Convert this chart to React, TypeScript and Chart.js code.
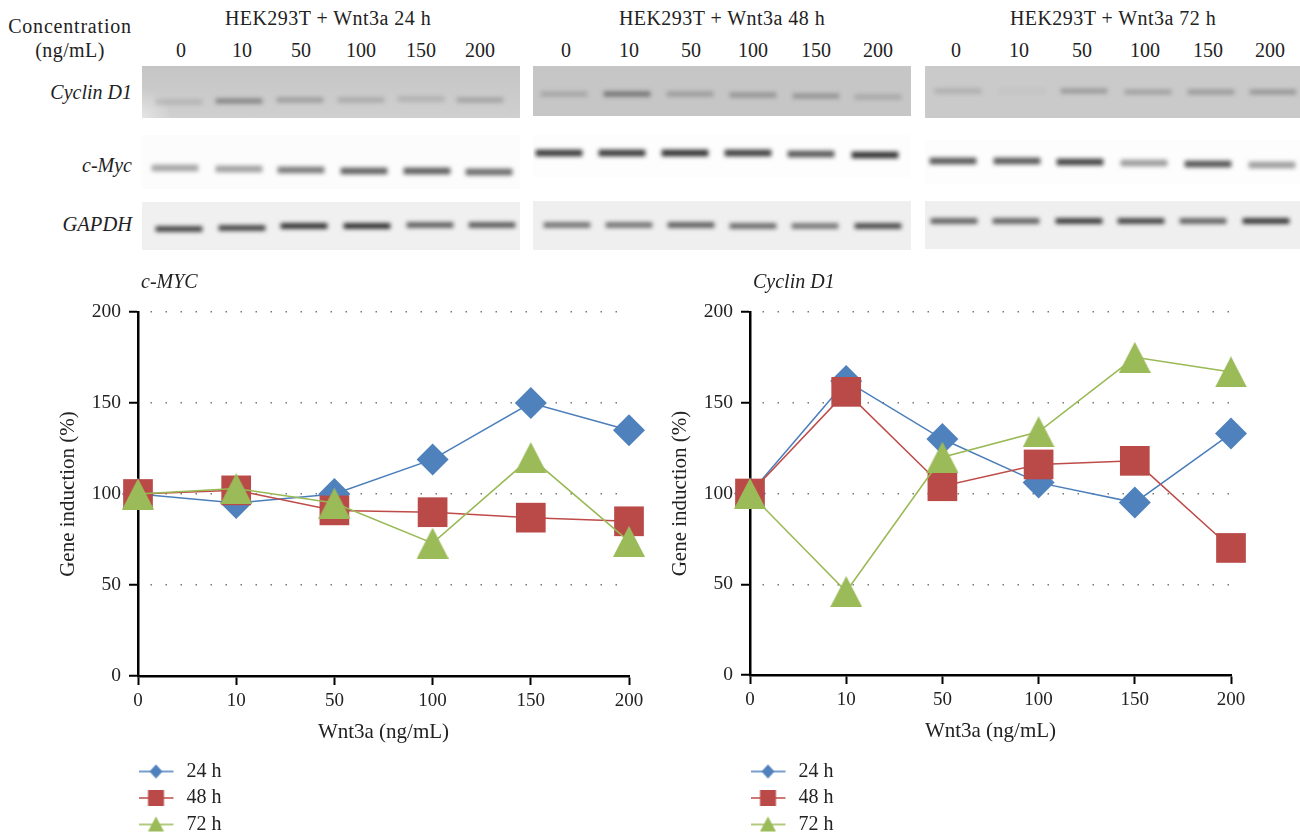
import React, { useEffect, useRef } from "react";
import { Chart, registerables } from "chart.js";

Chart.register(...registerables);

// ---- line chart data ----
const doses = ["0", "10", "50", "100", "150", "200"];
const seriesNames = ["24 h", "48 h", "72 h"];
const myc24 = [100, 95, 100, 119, 150, 135];
const myc48 = [100, 102, 91, 90, 87, 85];
const myc72 = [100, 103, 95, 73, 120, 74];
const cyclin24 = [100, 162, 130, 106, 95, 133];
const cyclin48 = [100, 156, 104, 116, 118, 70];
const cyclin72 = [100, 46, 120, 134, 175, 167];
const yTicks = [0, 50, 100, 150, 200];

// ---- gel band read-outs: lane centre, band centre, band darkness ----
const lanes24Cyclin = [179, 239, 300, 361, 421, 480];
const lanes24Myc = [175, 239, 301, 364, 427, 489];
const lanes24Gapdh = [179, 242, 304, 367, 430, 492];
const lanes48Cyclin = [564, 627, 690, 753, 816, 878];
const lanes48Myc = [559, 622, 685, 748, 811, 875];
const lanes48Gapdh = [567, 629, 691, 753, 815, 878];
const lanes72Cyclin = [958, 1022, 1084, 1148, 1211, 1273];
const lanes72Myc = [953, 1017, 1080, 1144, 1208, 1272];
const lanes72Gapdh = [954, 1016, 1079, 1141, 1203, 1266];

const y24Cyclin = [102, 101, 100, 100, 99, 100];
const y24Myc = [168, 169, 170, 171, 171, 172];
const y24Gapdh = [229, 228, 226, 226, 225, 225];
const y48Cyclin = [94, 94, 94, 95, 96, 97];
const y48Myc = [153, 153, 153, 153, 154, 155];
const y48Gapdh = [225, 225, 225, 226, 226, 226];
const y72Cyclin = [91, 91, 91, 92, 92, 92];
const y72Myc = [161, 161, 162, 163, 164, 165];
const y72Gapdh = [221, 221, 221, 221, 221, 221];

const dark24Cyclin = [0.14, 0.42, 0.28, 0.2, 0.16, 0.24];
const dark24Myc = [0.4, 0.42, 0.58, 0.7, 0.72, 0.66];
const dark24Gapdh = [0.85, 0.85, 0.95, 0.96, 0.72, 0.74];
const dark48Cyclin = [0.2, 0.5, 0.26, 0.3, 0.3, 0.18];
const dark48Myc = [0.88, 0.88, 0.92, 0.86, 0.74, 0.92];
const dark48Gapdh = [0.62, 0.62, 0.72, 0.66, 0.6, 0.82];
const dark72Cyclin = [0.16, 0.04, 0.28, 0.24, 0.28, 0.3];
const dark72Myc = [0.74, 0.74, 0.84, 0.44, 0.76, 0.43];
const dark72Gapdh = [0.7, 0.7, 0.9, 0.86, 0.7, 0.92];

const timeHeaders = ["HEK293T + Wnt3a 24 h", "HEK293T + Wnt3a 48 h", "HEK293T + Wnt3a 72 h"];
const geneLabels = ["Cyclin D1", "c-Myc", "GAPDH"];

const FONT = '"Liberation Serif", serif';
const BLUE = "#4f81bd";
const RED = "#b94a48";
const GREEN = "#9bbb59";
const LINE_BLUE = "#4a7ebb";
const LINE_RED = "#be4b48";
const LINE_GREEN = "#98b954";

function triangleIcon(w: number, h: number, color: string) {
  const c = document.createElement("canvas");
  c.width = w;
  c.height = h;
  const g = c.getContext("2d")!;
  g.fillStyle = color;
  g.beginPath();
  g.moveTo(w / 2, 0);
  g.lineTo(w, h);
  g.lineTo(0, h);
  g.closePath();
  g.fill();
  return c;
}

function legendIcon(kind: string, color: string, line: string) {
  const c = document.createElement("canvas");
  c.width = 38;
  c.height = 20;
  const g = c.getContext("2d")!;
  g.strokeStyle = line;
  g.lineWidth = 1.5;
  g.beginPath();
  g.moveTo(0, 10);
  g.lineTo(35, 10);
  g.stroke();
  g.fillStyle = color;
  g.beginPath();
  if (kind === "diamond") {
    g.moveTo(17.5, 3);
    g.lineTo(24, 10);
    g.lineTo(17.5, 17);
    g.lineTo(11, 10);
  } else if (kind === "square") {
    g.rect(9.5, 2, 16, 16);
  } else {
    g.moveTo(17.5, 2);
    g.lineTo(25.5, 17);
    g.lineTo(9.5, 17);
  }
  g.closePath();
  g.fill();
  return c;
}

function LineChart(props: { title: string; s24: number[]; s48: number[]; s72: number[]; left: number; height: number; width: number; padRight: number }) {
  const ref = useRef<HTMLCanvasElement>(null);
  useEffect(() => {
    const tri = triangleIcon(32, 31, GREEN);
    const common = { fill: false, borderWidth: 1.5, clip: false as any, tension: 0, pointBorderWidth: 0 };
    const chart = new Chart(ref.current!, {
      type: "line",
      data: {
        labels: doses,
        datasets: [
          { ...common, label: seriesNames[0], data: props.s24, order: 3, borderColor: LINE_BLUE, backgroundColor: BLUE, pointBackgroundColor: BLUE, pointStyle: "rectRot", pointRadius: 16 },
          { ...common, label: seriesNames[1], data: props.s48, order: 2, borderColor: LINE_RED, backgroundColor: RED, pointBackgroundColor: RED, pointStyle: "rect", pointRadius: 21 },
          { ...common, label: seriesNames[2], data: props.s72, order: 1, borderColor: LINE_GREEN, backgroundColor: GREEN, pointBackgroundColor: GREEN, pointStyle: tri as any, pointRadius: 16 },
        ],
      },
      plugins: [
        {
          id: "titleNudge",
          afterLayout: (c: any) => {
            c.titleBlock.left += 3;
          },
        },
      ],
      options: {
        animation: false,
        responsive: false,
        devicePixelRatio: 1,
        layout: { padding: { right: props.padRight, left: 0, top: 0, bottom: 0 } },
        plugins: {
          legend: { display: false },
          tooltip: { enabled: false },
          title: {
            display: true,
            text: props.title,
            align: "start",
            fullSize: false,
            color: "#222",
            font: { family: FONT, size: 20, style: "italic", weight: "normal", lineHeight: 1.2 },
            padding: { top: 1, bottom: 17 },
          },
        },
        scales: {
          x: {
            type: "category",
            offset: false,
            afterFit: (s: any) => { s.height = 74; },
            grid: { drawOnChartArea: false, tickColor: "#000", tickLength: 9, tickWidth: 2 },
            border: { color: "#000", width: 2.5 },
            ticks: { color: "#222", font: { family: FONT, size: 19 }, padding: 5, maxRotation: 0, autoSkip: false },
            title: { display: true, text: "Wnt3a (ng/mL)", color: "#222", font: { family: FONT, size: 21, lineHeight: 1.2 }, padding: { top: 0, bottom: 5 } },
          },
          y: {
            min: 0,
            max: 200,
            afterFit: (s: any) => { s.width = 138; },
            afterBuildTicks: (s: any) => { s.ticks = yTicks.map((value) => ({ value })); },
            grid: { color: "#777", lineWidth: 1.5, tickColor: "#000", tickLength: 9, tickWidth: 2, tickBorderDash: [] },
            border: { color: "#000", width: 2.5, dash: [1.5, 13.5], dashOffset: 4 },
            ticks: { color: "#222", font: { family: FONT, size: 19.5 }, padding: 8 },
            title: { display: true, text: "Gene induction (%)", color: "#222", font: { family: FONT, size: 21, lineHeight: 1.2 }, padding: { top: 55.5, bottom: 0 } },
          },
        },
      },
    });
    return () => chart.destroy();
  }, []);
  return <canvas ref={ref} width={props.width} height={props.height} style={{ position: "absolute", left: props.left, top: 270 }} />;
}

function LegendChart(props: { left: number }) {
  const ref = useRef<HTMLCanvasElement>(null);
  useEffect(() => {
    const icons = [legendIcon("diamond", BLUE, LINE_BLUE), legendIcon("square", RED, LINE_RED), legendIcon("triangle", GREEN, LINE_GREEN)];
    const chart = new Chart(ref.current!, {
      type: "line",
      data: {
        labels: [],
        datasets: seriesNames.map((label) => ({ label, data: [] as number[] })),
      },
      options: {
        animation: false,
        responsive: false,
        devicePixelRatio: 1,
        layout: { padding: 0 },
        scales: { x: { display: false }, y: { display: false } },
        plugins: {
          tooltip: { enabled: false },
          legend: {
            display: true,
            position: "left",
            align: "start",
            onClick: () => {},
            labels: {
              usePointStyle: true,
              pointStyleWidth: 38,
              padding: 6.5,
              color: "#222",
              font: { family: FONT, size: 20 },
              generateLabels: () =>
                seriesNames.map((text, i) => ({ text, pointStyle: icons[i] as any, fontColor: "#222", hidden: false, datasetIndex: i, lineWidth: 0 })),
            },
          },
        },
      },
    });
    return () => chart.destroy();
  }, []);
  return <canvas ref={ref} width={400} height={120} style={{ position: "absolute", left: props.left, top: 755 }} />;
}

function GelPanel(props: { x: number; y: number; w: number; h: number; bg: string; lanes: number[]; ys: number[]; dark: number[]; bandH: number; shade?: string }) {
  const ref = useRef<HTMLCanvasElement>(null);
  useEffect(() => {
    const chart = new Chart(ref.current!, {
      type: "bar",
      data: {
        datasets: [
          {
            data: props.lanes.map((x, i) => ({ x, y: [props.ys[i] - props.bandH / 2, props.ys[i] + props.bandH / 2] })) as any,
            backgroundColor: props.dark.map((d) => `rgba(30,30,30,${d})`),
            barThickness: 46,
            borderWidth: 0,
          },
        ],
      },
      options: {
        animation: false,
        responsive: false,
        devicePixelRatio: 1,
        layout: { padding: 0 },
        plugins: { legend: { display: false }, tooltip: { enabled: false } },
        scales: {
          x: { type: "linear", display: false, offset: false, min: props.x, max: props.x + props.w },
          y: { type: "linear", display: false, reverse: true, min: props.y, max: props.y + props.h },
        },
      },
    });
    return () => chart.destroy();
  }, []);
  return (
    <div style={{ position: "absolute", left: props.x, top: props.y, width: props.w, height: props.h, background: props.shade ? `${props.shade}, ${props.bg}` : props.bg, overflow: "hidden" }}>
      <canvas ref={ref} width={props.w} height={props.h} style={{ display: "block", filter: "blur(2px)" }} />
    </div>
  );
}

function Txt(props: { x: number; y: number; children: any; italic?: boolean; anchor?: string; size?: number; spacing?: number }) {
  const tr = props.anchor === "end" ? "translate(-100%,-50%)" : props.anchor === "start" ? "translate(0,-50%)" : "translate(-50%,-50%)";
  return (
    <div style={{ position: "absolute", left: props.x, top: props.y, transform: tr, font: `${props.italic ? "italic " : ""}${props.size ?? 20}px ${FONT}`, letterSpacing: props.spacing ?? 0, color: "#222", whiteSpace: "nowrap" }}>
      {props.children}
    </div>
  );
}

const headerX = [328, 722, 1113];
const laneLabelX = [
  [181, 242, 301, 361, 421, 480],
  [566, 629, 691, 753, 816, 878],
  [956, 1019, 1082, 1145, 1208, 1270],
];
const gray1 = "#cdcdcd";

export default function App() {
  useEffect(() => {
    document.body.style.margin = "0";
    document.body.style.background = "#fff";
  }, []);
  return (
    <div style={{ position: "relative", width: 1300, height: 835, overflow: "hidden", background: "#fff" }}>
      <Txt x={70} y={26} spacing={0.8}>Concentration</Txt>
      <Txt x={70} y={50} spacing={0.4}>(ng/mL)</Txt>
      {timeHeaders.map((t, i) => (
        <Txt key={t} x={headerX[i]} y={18} spacing={0.45}>{t}</Txt>
      ))}
      {laneLabelX.map((col, i) =>
        col.map((x, j) => (
          <Txt key={`${i}-${j}`} x={x} y={50}>{doses[j]}</Txt>
        ))
      )}
      <Txt x={132} y={92} italic anchor="end" size={20}>{geneLabels[0]}</Txt>
      <Txt x={132} y={165} italic anchor="end" size={20}>{geneLabels[1]}</Txt>
      <Txt x={132} y={224} italic anchor="end" size={20.5}>{geneLabels[2]}</Txt>

      <GelPanel x={142} y={66} w={378} h={52} bg={gray1} lanes={lanes24Cyclin} ys={y24Cyclin} dark={dark24Cyclin} bandH={4.5} shade="radial-gradient(circle at 0 100%, rgba(255,255,255,0.45), rgba(255,255,255,0) 30px), linear-gradient(rgba(0,0,0,0.04), rgba(255,255,255,0.05))" />
      <GelPanel x={142} y={135} w={378} h={54} bg="#fcfcfc" lanes={lanes24Myc} ys={y24Myc} dark={dark24Myc} bandH={6} />
      <GelPanel x={142} y={202} w={378} h={48} bg="#f0f0f0" lanes={lanes24Gapdh} ys={y24Gapdh} dark={dark24Gapdh} bandH={5} />

      <GelPanel x={533} y={66} w={378} h={50} bg="#c6c6c6" lanes={lanes48Cyclin} ys={y48Cyclin} dark={dark48Cyclin} bandH={4.5} />
      <GelPanel x={533} y={135} w={378} h={42} bg="#fdfdfd" lanes={lanes48Myc} ys={y48Myc} dark={dark48Myc} bandH={6} />
      <GelPanel x={533} y={201} w={378} h={49} bg="#efefef" lanes={lanes48Gapdh} ys={y48Gapdh} dark={dark48Gapdh} bandH={5} />

      <GelPanel x={925} y={66} w={375} h={52} bg="#cacaca" lanes={lanes72Cyclin} ys={y72Cyclin} dark={dark72Cyclin} bandH={4.5} />
      <GelPanel x={925} y={140} w={375} h={44} bg="#fdfdfd" lanes={lanes72Myc} ys={y72Myc} dark={dark72Myc} bandH={6} />
      <GelPanel x={925} y={201} w={375} h={48} bg="#efefef" lanes={lanes72Gapdh} ys={y72Gapdh} dark={dark72Gapdh} bandH={5} />

      <LineChart title="c-MYC" s24={myc24} s48={myc48} s72={myc72} left={0} width={650} height={480} padRight={20} />
      <LineChart title="Cyclin D1" s24={cyclin24} s48={cyclin48} s72={cyclin72} left={612} width={640} height={479} padRight={21} />
      <LegendChart left={131.5} />
      <LegendChart left={743.5} />
    </div>
  );
}
